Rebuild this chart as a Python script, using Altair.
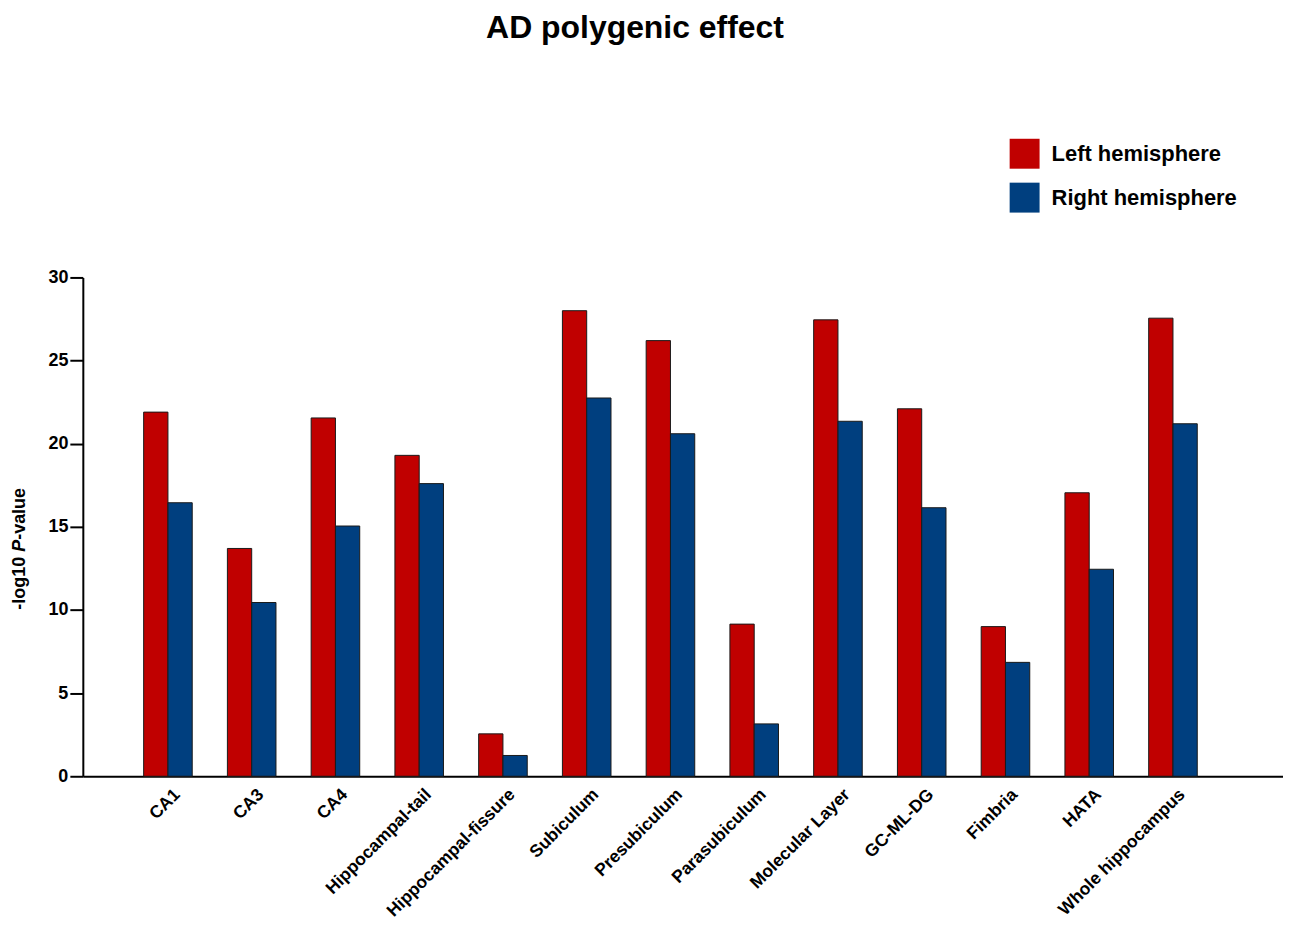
import altair as alt
import pandas as pd

regions = ["CA1", "CA3", "CA4", "Hippocampal-tail", "Hippocampal-fissure", "Subiculum",
           "Presubiculum", "Parasubiculum", "Molecular Layer", "GC-ML-DG", "Fimbria",
           "HATA", "Whole hippocampus"]
left_vals = [21.9, 13.7, 21.55, 19.3, 2.55, 28.0, 26.2, 9.15, 27.45, 22.1, 9.0, 17.05, 27.55]
right_vals = [16.45, 10.45, 15.05, 17.6, 1.25, 22.75, 20.6, 3.15, 21.35, 16.15, 6.85, 12.45, 21.2]
hemis = ["Left hemisphere", "Right hemisphere"]
colors = ["#C00000", "#003F7F"]
y_ticks = [0, 5, 10, 15, 20, 25, 30]

rows = []
for r, lv, rv in zip(regions, left_vals, right_vals):
    rows.append({"region": r, "hemisphere": hemis[0], "value": lv})
    rows.append({"region": r, "hemisphere": hemis[1], "value": rv})
df = pd.DataFrame(rows)

FONT = "Liberation Sans"

bars = alt.Chart(df).mark_bar(stroke="#1a1a1a", strokeWidth=1).encode(
    x=alt.X("region:N", sort=regions,
            scale=alt.Scale(paddingInner=0.42, paddingOuter=0.875, align=0.415),
            axis=alt.Axis(title=None, labelAngle=-45, labelFont=FONT, labelFontSize=17.5,
                          labelFontWeight="bold", labelColor="black", ticks=False,
                          labelPadding=9, labelOffset=3, labelLimit=400,
                          domainColor="black", domainWidth=2)),
    xOffset=alt.XOffset("hemisphere:N", sort=hemis),
    y=alt.Y("value:Q", scale=alt.Scale(domain=[0, 30], nice=False),
            axis=alt.Axis(title=None, values=y_ticks, grid=False, labelFont=FONT,
                          labelFontSize=18, labelFontWeight="bold", labelColor="black",
                          tickSize=13, tickWidth=2, tickColor="black", labelPadding=2,
                          domainColor="black", domainWidth=2)),
    color=alt.Color("hemisphere:N", sort=hemis,
                    scale=alt.Scale(domain=hemis, range=colors),
                    legend=alt.Legend(orient="none", legendX=929, legendY=-139, title=None,
                                      symbolType="square", symbolSize=900,
                                      symbolStrokeWidth=0, labelFont=FONT,
                                      labelFontSize=22, labelFontWeight="bold",
                                      labelColor="black", labelOffset=12, labelLimit=400,
                                      rowPadding=14)),
)

one = alt.Data(values=[{}])
ylab1 = alt.Chart(one).mark_text(angle=270, align="left", baseline="middle", font=FONT,
                                 fontSize=18, fontWeight="bold", color="black").encode(
    x=alt.value(-63), y=alt.value(333), text=alt.value("-log10 "))
ylab2 = alt.Chart(one).mark_text(angle=270, align="left", baseline="middle", font=FONT,
                                 fontSize=18, fontWeight="bold", fontStyle="italic",
                                 color="black").encode(
    x=alt.value(-63), y=alt.value(275), text=alt.value("P"))
ylab3 = alt.Chart(one).mark_text(angle=270, align="left", baseline="middle", font=FONT,
                                 fontSize=18, fontWeight="bold", color="black").encode(
    x=alt.value(-63), y=alt.value(263), text=alt.value("-value"))

chart = alt.layer(bars, ylab1, ylab2, ylab3).properties(
    width=1203, height=500,
    title=alt.TitleParams("AD polygenic effect", font=FONT, fontSize=32, fontWeight="bold",
                          color="black", anchor="middle", offset=94, dx=-48),
    autosize=alt.AutoSizeParams(type="none"),
    padding={"left": 75, "top": 269, "right": 0, "bottom": 143},
).configure_view(stroke=None)

chart.save("out.html", embed_options={"renderer": "svg", "actions": False})
